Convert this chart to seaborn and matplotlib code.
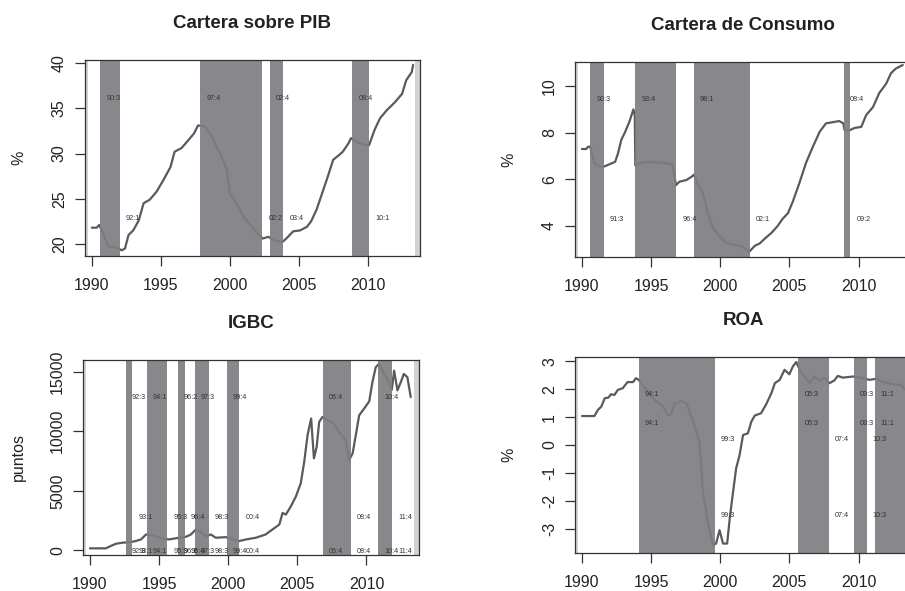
import pandas as pd
import matplotlib
matplotlib.use("Agg")
import matplotlib.pyplot as plt
import matplotlib.transforms as mtransforms
import seaborn as sns

# --------------------------------
# DATA
# --------------------------------

sample_start = 1989.75
sample_end = 2013.45

# Cartera sobre PIB
pib_years = [1990.0, 1990.35, 1990.53, 1990.72, 1991.2, 1991.8, 1992.17, 1992.4, 1992.66, 1993.0,
             1993.4, 1993.75, 1994.2, 1994.7, 1995.2, 1995.7, 1996.0, 1996.5, 1996.9, 1997.4,
             1997.7, 1998.2, 1998.7, 1999.3, 1999.8, 2000.0, 2000.5, 2001.0, 2001.5, 2002.0,
             2002.4, 2002.8, 2003.2, 2003.8, 2004.1, 2004.6, 2005.1, 2005.6, 2005.9, 2006.3,
             2006.7, 2007.1, 2007.5, 2007.9, 2008.2, 2008.6, 2008.8, 2009.2, 2009.7, 2010.1,
             2010.5, 2010.9, 2011.4, 2012.0, 2012.5, 2012.8, 2013.2, 2013.3]
pib_values = [21.8, 21.8, 22.1, 21.5, 19.7, 19.6, 19.3, 19.5, 21.0, 21.5,
              22.6, 24.5, 24.9, 25.8, 27.1, 28.5, 30.2, 30.6, 31.3, 32.2,
              33.1, 33.0, 31.9, 30.0, 28.2, 25.6, 24.5, 23.0, 22.1, 21.2,
              20.6, 20.8, 20.4, 20.2, 20.6, 21.4, 21.5, 21.9, 22.5, 23.8,
              25.6, 27.4, 29.3, 29.8, 30.2, 31.1, 31.7, 31.3, 31.0, 30.9,
              32.6, 33.9, 34.8, 35.7, 36.6, 38.1, 39.0, 39.8]
pib_starts = [1990.6, 1997.87, 2002.92, 2008.9]
pib_ends = [1992.05, 2002.36, 2003.89, 2010.1]
pib_peaks = ["90:3", "97:4", "02:4", "08:4"]
pib_troughs = ["92:1", "02:2", "03:4", "10:1"]

# Cartera de Consumo
con_years = [1990.0, 1990.3, 1990.45, 1990.6, 1990.9, 1991.3, 1991.6, 1992.0, 1992.4, 1992.6,
             1992.85, 1993.1, 1993.45, 1993.72, 1993.82, 1993.86, 1994.2, 1994.9, 1995.9, 1996.55,
             1996.8, 1997.05, 1997.55, 1997.9, 1998.1, 1998.4, 1998.75, 1999.1, 1999.5, 1999.95,
             2000.4, 2000.9, 2001.5, 2002.1, 2002.5, 2002.85, 2003.3, 2003.7, 2004.15, 2004.5,
             2004.9, 2005.25, 2005.7, 2006.2, 2006.7, 2007.2, 2007.65, 2008.15, 2008.6, 2008.9,
             2009.0, 2009.35, 2009.7, 2010.2, 2010.55, 2011.05, 2011.5, 2012.0, 2012.35, 2012.7,
             2013.2]
con_values = [7.3, 7.3, 7.4, 7.4, 6.7, 6.55, 6.55, 6.65, 6.75, 7.1,
              7.7, 8.0, 8.5, 9.0, 8.75, 6.6, 6.7, 6.75, 6.7, 6.65,
              5.75, 5.9, 5.97, 6.1, 6.2, 5.75, 5.4, 4.55, 3.9, 3.55,
              3.3, 3.2, 3.15, 2.9, 3.15, 3.25, 3.5, 3.7, 4.0, 4.3,
              4.55, 5.05, 5.8, 6.7, 7.4, 8.05, 8.4, 8.45, 8.5, 8.4,
              8.1, 8.1, 8.2, 8.25, 8.75, 9.1, 9.7, 10.1, 10.55, 10.75,
              10.9]
con_starts = [1990.6, 1993.86, 1998.1, 2008.92]
con_ends = [1991.6, 1996.82, 2002.12, 2009.4]
con_peaks = ["90:3", "93:4", "98:1", "08:4"]
con_troughs = ["91:3", "96:4", "02:1", "09:2"]

# IGBC
igbc_years = [1990.0, 1991.15, 1991.65, 1991.9, 1992.35, 1992.95, 1993.3, 1993.7, 1994.05, 1994.5,
              1995.25, 1995.73, 1996.45, 1996.94, 1997.3, 1997.66, 1998.0, 1998.4, 1998.75, 1999.1,
              1999.83, 2000.3, 2000.8, 2001.3, 2002.0, 2002.7, 2003.2, 2003.7, 2003.93, 2004.17,
              2004.53, 2004.9, 2005.25, 2005.5, 2005.74, 2006.0, 2006.2, 2006.4, 2006.58, 2006.82,
              2007.2, 2007.66, 2008.0, 2008.5, 2008.75, 2009.0, 2009.23, 2009.47, 2009.83, 2010.2,
              2010.43, 2010.67, 2010.9, 2011.16, 2011.5, 2011.83, 2012.0, 2012.24, 2012.48, 2012.7,
              2012.96, 2013.2]
igbc_values = [170, 170, 440, 560, 640, 700, 780, 920, 1330, 1280,
               970, 920, 1060, 1140, 1330, 1750, 1560, 1190, 1330, 1060,
               1110, 920, 780, 920, 1060, 1330, 1750, 2170, 3140, 3000,
               3690, 4530, 5640, 7440, 9670, 11060, 7720, 8690, 10780, 11190,
               10920, 10640, 9940, 9250, 7580, 8140, 9670, 11330, 11890, 12500,
               14110, 15360, 15640, 15080, 14390, 13470, 15080, 13420, 14110, 14800,
               14530, 12860]
igbc_starts = [1992.58, 1994.1, 1996.36, 1997.6, 1999.9, 2006.87, 2010.84]
igbc_ends = [1993.08, 1995.6, 1996.87, 1998.58, 2000.8, 2008.87, 2011.83]
igbc_peaks = ["92:3", "94:1", "96:2", "97:3", "99:4", "06:4", "10:4"]
igbc_troughs = ["93:1", "95:3", "96:4", "98:3", "00:4", "08:4", "11:4"]

# ROA
roa_years = [1990.0, 1990.9, 1991.15, 1991.4, 1991.65, 1991.9, 1992.1, 1992.35, 1992.6, 1992.95,
             1993.3, 1993.7, 1993.9, 1994.1, 1994.4, 1994.9, 1995.4, 1995.85, 1996.2, 1996.45,
             1996.7, 1997.2, 1997.55, 1998.0, 1998.5, 1998.75, 1999.1, 1999.47, 1999.7, 1999.95,
             2000.2, 2000.5, 2000.7, 2000.9, 2001.15, 2001.4, 2001.65, 2002.0, 2002.25, 2002.5,
             2002.95, 2003.3, 2003.7, 2003.95, 2004.3, 2004.65, 2005.0, 2005.25, 2005.5, 2005.75,
             2006.1, 2006.45, 2006.8, 2007.2, 2007.55, 2007.9, 2008.25, 2008.5, 2008.87, 2009.6,
             2010.3, 2010.8, 2011.3, 2011.75, 2012.5, 2013.1, 2013.3]
roa_values = [1.04, 1.04, 1.26, 1.38, 1.68, 1.7, 1.82, 1.8, 1.98, 2.04,
              2.26, 2.26, 2.4, 2.34, 2.16, 1.8, 1.56, 1.38, 1.08, 1.1,
              1.5, 1.58, 1.5, 0.9, 0.12, -1.68, -2.76, -3.6, -3.54, -3.06,
              -3.54, -3.54, -2.58, -1.8, -0.84, -0.36, 0.36, 0.42, 0.84, 1.06,
              1.14, 1.44, 1.86, 2.22, 2.34, 2.7, 2.54, 2.82, 2.98, 2.7,
              2.46, 2.22, 2.46, 2.3, 2.42, 2.22, 2.32, 2.48, 2.42, 2.46,
              2.4, 2.34, 2.38, 2.26, 2.18, 2.16, 2.0]
roa_starts = [1994.1, 2005.64, 2009.64, 2011.16]
roa_ends = [1999.59, 2007.86, 2010.6, 2013.45]
roa_peaks = ["94:1", "05:3", "09:3", "11:1"]
roa_troughs = ["99:3", "07:4", "10:3"]

x_ticks = [1990, 1995, 2000, 2005, 2010]

# --------------------------------
# STYLE
# --------------------------------

sns.set_style("white")
plt.rcParams["font.family"] = ["Liberation Sans", "DejaVu Sans"]

LINE_COLOR = "#5a5a5a"
BAND_COLOR = "#7e7e82"
EDGE_GRAY = "#d2d2d2"
TEXT_COLOR = "#222222"

fig = plt.figure(figsize=(9.05, 5.91), dpi=100)


def draw_panel(rect, title, ylabel, years, values, starts, ends, peaks, troughs,
               ylim, yticks, peak_rows, trough_rows, label_x=-0.175, label_offset=0.95):
    ax = fig.add_axes(rect)
    ax.set_facecolor(EDGE_GRAY)
    ax.axvspan(sample_start, sample_end, color="white", zorder=0, lw=0)

    df = pd.DataFrame({"year": years, "value": values})
    sns.lineplot(data=df, x="year", y="value", ax=ax, color=LINE_COLOR,
                 linewidth=1.6, sort=False, estimator=None)
    for ln in ax.lines:
        ln.set_zorder(1)

    # bands sit over the line, so the line shows only faintly inside them
    for s, e in zip(starts, ends):
        ax.axvspan(s, e, color=BAND_COLOR, alpha=0.92, lw=0, zorder=2)

    trans = mtransforms.blended_transform_factory(ax.transData, ax.transAxes)
    for lab, s in zip(peaks, starts):
        for r in peak_rows:
            ax.text(s + label_offset, r, lab, transform=trans, fontsize=5.2,
                    color="#333333", ha="center", va="center", zorder=3)
    for lab, e in zip(troughs, ends):
        for r in trough_rows:
            ax.text(e + label_offset, r, lab, transform=trans, fontsize=5.2,
                    color="#333333", ha="center", va="center", zorder=3)

    ax.set_xlim(1989.5, 2013.8)
    ax.set_ylim(*ylim)
    ax.set_xticks(x_ticks)
    ax.set_xticklabels([str(t) for t in x_ticks])
    ax.set_yticks(yticks)
    ax.set_yticklabels([str(t) for t in yticks], rotation=90, va="center")

    ax.tick_params(axis="both", length=7, width=0.9, color="#333333",
                   labelsize=11.5, labelcolor=TEXT_COLOR, direction="out")
    ax.tick_params(axis="x", pad=9)
    ax.tick_params(axis="y", pad=6)
    ax.tick_params(axis="both", bottom=True, left=True)
    for sp in ax.spines.values():
        sp.set_color("#333333")
        sp.set_linewidth(0.9)

    ax.set_xlabel("")
    ax.set_ylabel(ylabel, fontsize=11.5, color=TEXT_COLOR)
    ax.yaxis.set_label_coords(label_x, 0.5)
    ax.set_title(title, fontsize=13.5, fontweight="bold", color=TEXT_COLOR, pad=23)
    return ax


# --------------------------------
# PANELS
# --------------------------------

draw_panel([0.0939, 0.5668, 0.3702, 0.3316], "Cartera sobre PIB", "%",
           pib_years, pib_values, pib_starts, pib_ends, pib_peaks, pib_troughs,
           (18.67, 40.33), [20, 25, 30, 35, 40], [0.806], [0.19])

draw_panel([0.6354, 0.5651, 0.3713, 0.3300], "Cartera de Consumo", "%",
           con_years, con_values, con_starts, con_ends, con_peaks, con_troughs,
           (2.67, 11.03), [4, 6, 8, 10], [0.806], [0.19])

draw_panel([0.0917, 0.0609, 0.3713, 0.3300], "IGBC", "puntos",
           igbc_years, igbc_values, igbc_starts, igbc_ends, igbc_peaks, igbc_troughs,
           (-389, 15972), [0, 5000, 10000, 15000], [0.807, 0.017], [0.19, 0.017],
           label_x=-0.17)

draw_panel([0.6354, 0.0643, 0.3713, 0.3316], "ROA", "%",
           roa_years, roa_values, roa_starts, roa_ends, roa_peaks, roa_troughs,
           (-3.88, 3.16), [-3, -2, -1, 0, 1, 2, 3], [0.807, 0.662], [0.58, 0.19])

fig.savefig("out.png", dpi=100)
